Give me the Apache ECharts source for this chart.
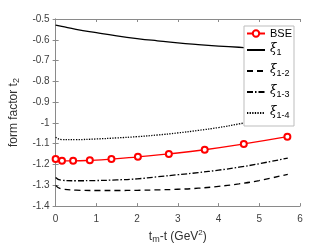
<!DOCTYPE html>
<html><head><meta charset="utf-8">
<script src="https://cdn.jsdelivr.net/npm/echarts@6/dist/echarts.min.js"></script>
<style>html,body{margin:0;padding:0;background:#fff}#c{width:332px;height:249px}</style>
</head><body><div id="c"></div>
<script>
const bseT = [0, 0.156, 0.43, 0.84, 1.37, 2.02, 2.78, 3.66, 4.62, 5.69];
const bseV = [-1.174, -1.182, -1.182, -1.180, -1.174, -1.163, -1.149, -1.129, -1.101, -1.066];
const curveT = [0, 0.15, 0.5, 1, 1.5, 2, 2.5, 3, 3.5, 4, 4.5, 5, 5.7];
const xi1 = [-0.530, -0.536, -0.550, -0.566, -0.581, -0.594, -0.605, -0.615, -0.623, -0.630, -0.636, -0.641, -0.646];
const xi12 = [-1.300, -1.318, -1.323, -1.325, -1.325, -1.324, -1.322, -1.319, -1.314, -1.305, -1.293, -1.277, -1.247];
const xi13 = [-1.262, -1.276, -1.278, -1.277, -1.274, -1.269, -1.259, -1.249, -1.239, -1.227, -1.213, -1.196, -1.169];
const xi14 = [-1.069, -1.080, -1.080, -1.077, -1.072, -1.066, -1.058, -1.048, -1.036, -1.022, -1.005, -0.985, -0.955];
const xTicks = [0, 1, 2, 3, 4, 5, 6];
const yTicks = [-1.4, -1.3, -1.2, -1.1, -1, -0.9, -0.8, -0.7, -0.6, -0.5];
const legendNames = ['BSE', 'ξ1', 'ξ1-2', 'ξ1-3', 'ξ1-4'];

const pairs = (xs, ys) => xs.map((x, i) => [x, ys[i]]);
const chart = echarts.init(document.getElementById('c'));
const axisCol = '#8a8a8a';
const FONT = 'Liberation Sans, Arial, sans-serif';
const lab = {color: '#404040', fontSize: 10, fontFamily: FONT};
const tickCommon = {show: true, inside: true, length: 3, lineStyle: {color: axisCol}};
function lineSeries(name, ys, type) {
  return {name, type: 'line', data: pairs(curveT, ys), smooth: true, symbol: 'none',
    lineStyle: {color: '#000', width: 1.3, type: type}, itemStyle: {color: '#000'}};
}
chart.setOption({
  animation: false,
  grid: {left: 44, top: 19, right: 32, bottom: 36},
  xAxis: [{
    type: 'value', min: xTicks[0], max: xTicks[xTicks.length - 1], interval: 1,
    axisLine: {lineStyle: {color: axisCol}}, axisTick: tickCommon, splitLine: {show: false},
    axisLabel: Object.assign({margin: 8}, lab),
    name: 't{s|m}-t (GeV{p|2})', nameLocation: 'middle', nameGap: 19,
    nameTextStyle: {color: '#303030', fontSize: 12, fontFamily: FONT,
      rich: {s: {fontSize: 9, verticalAlign: 'bottom', padding: [6, 0, 0, 0]}, p: {fontSize: 8, padding: [0, 0, 7, 0]}}}
  }, {
    type: 'value', position: 'top', min: 0, max: 6, interval: 1,
    axisLine: {show: true, lineStyle: {color: axisCol}}, axisTick: tickCommon, axisLabel: {show: false}, splitLine: {show: false}
  }],
  yAxis: [{
    type: 'value', min: yTicks[0], max: yTicks[yTicks.length - 1], interval: 0.1,
    axisLine: {show: true, lineStyle: {color: axisCol}}, axisTick: tickCommon, splitLine: {show: false},
    axisLabel: Object.assign({margin: 6, formatter: v => String(+v.toFixed(1))}, lab),
    name: 'form factor t{s|2}', nameLocation: 'middle', nameGap: 26,
    nameTextStyle: {color: '#303030', fontSize: 12, fontFamily: FONT,
      rich: {s: {fontSize: 9, padding: [6, 0, 0, 0]}}}
  }, {
    type: 'value', position: 'right', min: -1.4, max: -0.5, interval: 0.1,
    axisLine: {show: true, lineStyle: {color: axisCol}}, axisTick: tickCommon, axisLabel: {show: false}, splitLine: {show: false}
  }],
  legend: {
    data: legendNames.map(n => n === 'BSE' ? {name: n} :
      {name: n, itemStyle: {color: 'rgba(0,0,0,0)', borderColor: 'rgba(0,0,0,0)', borderWidth: 0}}),
    orient: 'vertical', left: 244, top: 26,
    backgroundColor: '#fff', borderColor: '#bdbdbd', borderWidth: 1, borderRadius: 0,
    padding: [2, 2, 3, 2], itemGap: 4, itemWidth: 18, itemHeight: 8,
    formatter: n => n === 'BSE' ? '{b|BSE}' : '{x|ξ}{s|' + n.slice(1) + '}',
    textStyle: {color: '#000', fontSize: 11, fontFamily: FONT,
      rich: {b: {fontSize: 11, lineHeight: 14, fontFamily: FONT},
             x: {fontSize: 12, lineHeight: 14, verticalAlign: 'top', padding: [0, 0, 5, 0], fontStyle: 'italic', fontFamily: 'DejaVu Serif, serif'},
             s: {fontSize: 9, lineHeight: 10, verticalAlign: 'bottom', fontFamily: FONT}}}
  },
  series: [
    {name: 'BSE', type: 'line', data: pairs(bseT, bseV), smooth: true, symbol: 'emptyCircle', symbolSize: 6,
      lineStyle: {color: '#ff0000', width: 1.3}, itemStyle: {color: '#ff0000', borderWidth: 1.3}, z: 5},
    lineSeries('ξ1', xi1, 'solid'),
    lineSeries('ξ1-2', xi12, [6, 4]),
    lineSeries('ξ1-3', xi13, [6, 2, 1.5, 2]),
    lineSeries('ξ1-4', xi14, [1.3, 1.3])
  ]
});
</script></body></html>
